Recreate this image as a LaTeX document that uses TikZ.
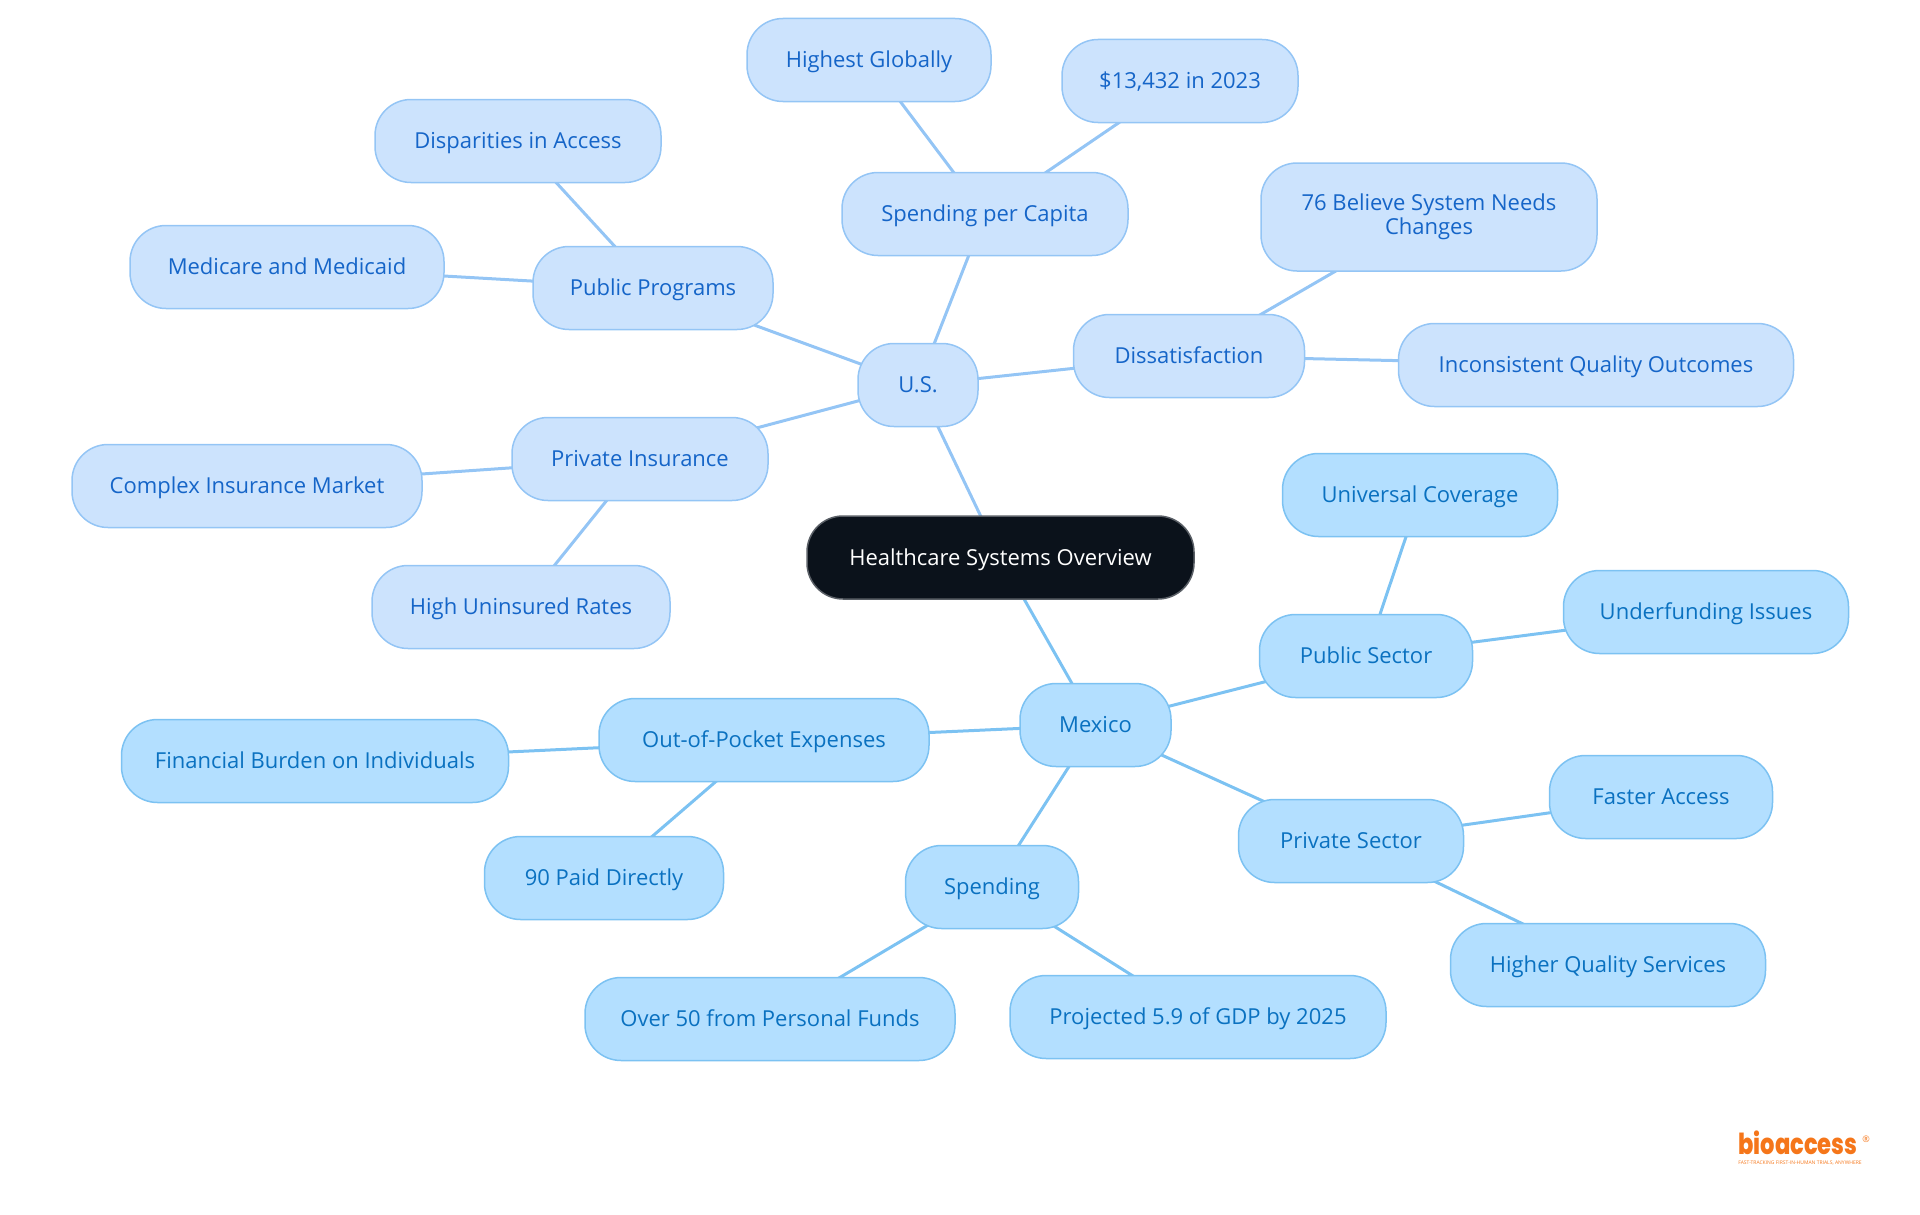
\documentclass[tikz,border=0pt]{standalone}
\usepackage{fontspec}
\usetikzlibrary{backgrounds}
\setmainfont{Open Sans}
\newfontfamily\logofont{Poppins ExtraBold}
\definecolor{rootfill}{HTML}{0B121B}
\definecolor{rootline}{HTML}{5A5F66}
\definecolor{usfill}{HTML}{CCE3FD}
\definecolor{usline}{HTML}{94C5F5}
\definecolor{ustext}{HTML}{1565C8}
\definecolor{mxfill}{HTML}{B3DFFF}
\definecolor{mxline}{HTML}{7CC2F2}
\definecolor{mxtext}{HTML}{0A71C0}
\definecolor{logoorange}{HTML}{F5761A}
\begin{document}
\begin{tikzpicture}
	[x=1pt, y=-1pt,
	main/.style = {draw, rounded corners=36pt, line width=1.5pt,
	minimum height=83pt, inner sep=0pt, align=center, text height=19pt, text depth=3.6pt,
	font=\fontsize{22}{24.5}\selectfont},
	root/.style = {main, fill=rootfill, draw=rootline, text=white},
	usbox/.style = {main, fill=usfill, draw=usline, text=ustext},
	mxbox/.style = {main, fill=mxfill, draw=mxline, text=mxtext},
	usedge/.style = {draw=usline, line width=3pt},
	mxedge/.style = {draw=mxline, line width=3pt}]
	\useasboundingbox (0,0) rectangle (1920,1215);
	\node[root, minimum width=387pt] (overview) at (1000.5,557.5) {Healthcare Systems Overview};
	% U.S. side
	\node[usbox, minimum width=120pt] (us) at (918,385) {U.S.};
	\node[usbox, minimum width=286pt] (capita) at (985,214) {Spending per Capita};
	\node[usbox, minimum width=244pt] (highest) at (869,60) {Highest Globally};
	\node[usbox, minimum width=236pt] (amount) at (1180,81) {\$13,432 in 2023};
	\node[usbox, minimum width=240pt] (public) at (653,288) {Public Programs};
	\node[usbox, minimum width=286pt] (disparities) at (518,141) {Disparities in Access};
	\node[usbox, minimum width=314pt] (medicare) at (287,267) {Medicare and Medicaid};
	\node[usbox, minimum width=231pt] (dissat) at (1189,356) {Dissatisfaction};
	\node[usbox, minimum width=336pt, minimum height=108pt, text height=, text depth=] (believe) at (1429,217) {76 Believe System Needs\\Changes};
	\node[usbox, minimum width=395pt] (quality) at (1596,365) {Inconsistent Quality Outcomes};
	\node[usbox, minimum width=256pt] (insurance) at (640,459) {Private Insurance};
	\node[usbox, minimum width=350pt] (market) at (247,486) {Complex Insurance Market};
	\node[usbox, minimum width=298pt] (uninsured) at (521,607) {High Uninsured Rates};
	% Mexico side
	\node[mxbox, minimum width=151pt] (mexico) at (1095.5,725) {Mexico};
	\node[mxbox, minimum width=213pt] (sector) at (1366,656) {Public Sector};
	\node[mxbox, minimum width=275pt] (universal) at (1420,495) {Universal Coverage};
	\node[mxbox, minimum width=285pt] (underfund) at (1706,612) {Underfunding Issues};
	\node[mxbox, minimum width=330pt] (pocket) at (764,740) {Out-of-Pocket Expenses};
	\node[mxbox, minimum width=387pt] (burden) at (315,761) {Financial Burden on Individuals};
	\node[mxbox, minimum width=239pt] (paid) at (604,878) {90 Paid Directly};
	\node[mxbox, minimum width=225pt] (privsector) at (1351,841) {Private Sector};
	\node[mxbox, minimum width=223pt] (faster) at (1661,797) {Faster Access};
	\node[mxbox, minimum width=315pt] (higher) at (1608,965) {Higher Quality Services};
	\node[mxbox, minimum width=173pt] (spending) at (992,887) {Spending};
	\node[mxbox, minimum width=370pt] (personal) at (770,1019) {Over 50 from Personal Funds};
	\node[mxbox, minimum width=376pt] (gdp) at (1198,1017) {Projected 5.9 of GDP by 2025};
	% logo
	\node[inner sep=0pt, anchor=base, text=logoorange, font=\logofont\fontsize{29}{29}\selectfont, xscale=.78] (logo) at (1798,1154) {bioaccess};
	\node[inner sep=0pt, text=logoorange, font=\fontsize{5}{5}\selectfont] (tagline) at (1800,1163) {FAST-TRACKING FIRST-IN-HUMAN TRIALS, ANYWHERE};
	\node[inner sep=0pt, text=logoorange, font=\fontsize{9}{9}\selectfont] (regmark) at (1866,1139) {®};
	% connectors
	\begin{scope}[on background layer]
	\draw[usedge] (overview.center) -- (us.center);
	\draw[usedge] (us.center) -- (capita.center);
	\draw[usedge] (us.center) -- (public.center);
	\draw[usedge] (us.center) -- (dissat.center);
	\draw[usedge] (us.center) -- (insurance.center);
	\draw[usedge] (capita.center) -- (highest.center);
	\draw[usedge] (capita.center) -- (amount.center);
	\draw[usedge] (public.center) -- (disparities.center);
	\draw[usedge] (public.center) -- (medicare.center);
	\draw[usedge] (dissat.center) -- (believe.center);
	\draw[usedge] (dissat.center) -- (quality.center);
	\draw[usedge] (insurance.center) -- (market.center);
	\draw[usedge] (insurance.center) -- (uninsured.center);
	\draw[mxedge] (overview.center) -- (mexico.center);
	\draw[mxedge] (mexico.center) -- (sector.center);
	\draw[mxedge] (mexico.center) -- (pocket.center);
	\draw[mxedge] (mexico.center) -- (privsector.center);
	\draw[mxedge] (mexico.center) -- (spending.center);
	\draw[mxedge] (sector.center) -- (universal.center);
	\draw[mxedge] (sector.center) -- (underfund.center);
	\draw[mxedge] (pocket.center) -- (burden.center);
	\draw[mxedge] (pocket.center) -- (paid.center);
	\draw[mxedge] (privsector.center) -- (faster.center);
	\draw[mxedge] (privsector.center) -- (higher.center);
	\draw[mxedge] (spending.center) -- (personal.center);
	\draw[mxedge] (spending.center) -- (gdp.center);
	\end{scope}
\end{tikzpicture}
\end{document}
